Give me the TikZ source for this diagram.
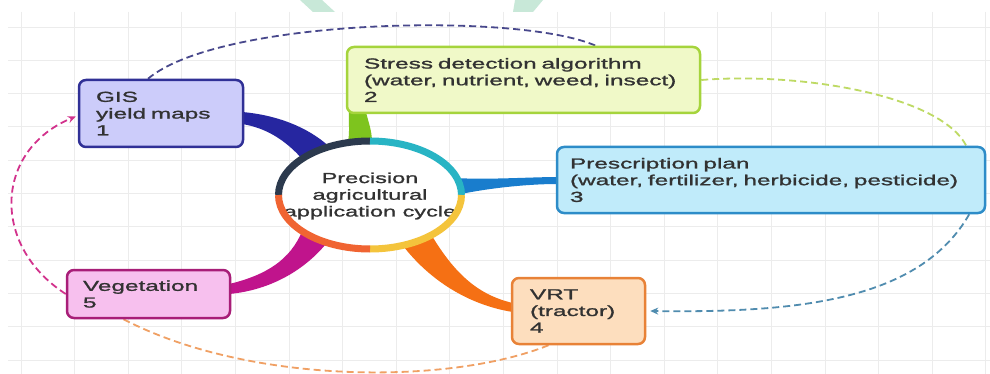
\documentclass[tikz,border=0pt]{standalone}
\usepackage{fontspec}
\newfontfamily\lblfont[FakeStretch=1.68,FakeBold=1.3]{Liberation Sans}
\newfontfamily\cycfont[FakeStretch=1.62,FakeBold=1.3]{Liberation Sans}
\usetikzlibrary{calc,arrows.meta,backgrounds}
\definecolor{txt}{RGB}{50,50,50}
\definecolor{gisfill}{RGB}{204,204,250}\definecolor{gisdraw}{RGB}{48,48,150}
\definecolor{strfill}{RGB}{240,249,200}\definecolor{strdraw}{RGB}{165,212,60}
\definecolor{prefill}{RGB}{192,235,250}\definecolor{predraw}{RGB}{45,140,200}
\definecolor{vrtfill}{RGB}{253,222,190}\definecolor{vrtdraw}{RGB}{232,130,55}
\definecolor{vegfill}{RGB}{247,192,238}\definecolor{vegdraw}{RGB}{168,30,120}
\definecolor{spGis}{RGB}{38,38,160}\definecolor{spStr}{RGB}{126,196,30}
\definecolor{spPre}{RGB}{25,125,205}\definecolor{spVrt}{RGB}{245,112,20}
\definecolor{spVeg}{RGB}{192,20,140}
\definecolor{rNavy}{RGB}{44,58,78}\definecolor{rTeal}{RGB}{40,180,196}
\definecolor{rYel}{RGB}{244,196,60}\definecolor{rOra}{RGB}{240,100,50}
\definecolor{dGis}{RGB}{72,72,140}\definecolor{dStr}{RGB}{190,218,100}
\definecolor{dPre}{RGB}{80,140,175}\definecolor{dVrt}{RGB}{240,160,100}
\definecolor{dVeg}{RGB}{210,50,140}
\definecolor{gridc}{RGB}{236,236,236}\definecolor{wm}{RGB}{200,232,216}
\tikzset{
  lbl/.style={font=\lblfont\fontsize{14.5}{16.7}\selectfont, text=txt},
  box/.style={lbl, draw, rounded corners=7pt, line width=2.5pt, align=left,
    inner xsep=0pt, inner ysep=0pt},
  cycdash/.style={dash pattern=on 7pt off 4pt, line width=1.8pt},
  ringseg/.style={line width=7pt},
  gridline/.style={draw=gridc, line width=0.8pt},
}
\begin{document}
\begin{tikzpicture}[x=1pt,y=-1pt]
\useasboundingbox (0,0) rectangle (990,374);

% boxes
\node[box, draw=gisdraw, fill=gisfill, minimum width=164pt, minimum height=67pt, text width=130pt] (gis) at (161,113.5) {GIS\\yield maps\\1};
\node[box, draw=strdraw, fill=strfill, minimum width=353pt, minimum height=66pt, text width=319pt] (stress) at (523.5,80) {Stress detection algorithm\\\mbox{(water, nutrient, weed, insect)}\\2};
\node[box, draw=predraw, fill=prefill, minimum width=428pt, minimum height=66pt, text width=402pt] (presc) at (771,180) {Prescription plan\\\mbox{(water, fertilizer, herbicide, pesticide)}\\3};
\node[box, draw=vrtdraw, fill=vrtfill, minimum width=133pt, minimum height=66pt, text width=97pt] (vrt) at (578.5,311) {VRT\\(tractor)\\4};
\node[box, draw=vegdraw, fill=vegfill, minimum width=163pt, minimum height=48pt, text width=131pt] (veg) at (148.5,294) {Vegetation\\5};

% centre
\fill[white] (370,195) ellipse[x radius=91.5, y radius=54];
\node[font=\cycfont\fontsize{14.5}{16.7}\selectfont, text=txt, align=center, inner sep=0pt] (cyc) at (370,196) {Precision\\agricultural\\application cycle};
\draw[ringseg, rNavy] ($(cyc.center)+(0,-55)$) arc[start angle=-90, end angle=-180, x radius=91.5, y radius=54];
\draw[ringseg, rTeal] ($(cyc.center)+(91.5,-1)$) arc[start angle=0, end angle=-90, x radius=91.5, y radius=54];
\draw[ringseg, rYel] ($(cyc.center)+(91.5,-1)$) arc[start angle=0, end angle=90, x radius=91.5, y radius=54];
\draw[ringseg, rOra] ($(cyc.center)+(0,53)$) arc[start angle=90, end angle=180, x radius=91.5, y radius=54];

\begin{scope}[on background layer]
  \fill[white] (0,0) rectangle (990,374);
  \foreach \i in {0,...,18} \draw[gridline] ({21+53.6*\i},12) -- ({21+53.6*\i},374);
  \foreach \j in {0,...,10} \draw[gridline] (8,{27+33.3*\j}) -- (990,{27+33.3*\j});
  \fill[wm] (300,0) -- (322,0) -- (335,12) -- (313,12) -- cycle;
  \fill[wm] (515,0) -- (543,0) -- (533,12) -- (513,12) -- cycle;

  % dashed cycle connectors
  \draw[cycdash, dGis] ($(gis.north)+(-13,0)$) .. controls (220,18) and (520,12) .. ($(stress.north west)+(250,0)$);
  \draw[cycdash, dStr] (stress.east) .. controls (800,72) and (940,95) .. ($(presc.north east)+(-20,0)$);
  \draw[cycdash, dPre, -{Stealth[length=8pt,width=7pt]}] ($(presc.south east)+(-17,0)$) .. controls (920,300) and (800,313) .. ($(vrt.east)+(4,0)$);
  \draw[cycdash, dVrt] ($(vrt.south)+(-30,0)$) .. controls (450,385) and (250,385) .. ($(veg.south)+(-25,0)$);
  \draw[cycdash, dVeg, -{Stealth[length=8pt,width=7pt]}] (veg.west) .. controls (-10,245) and (-5,150) .. ($(gis.west)+(-2,3)$);

  % spokes
  \fill[spGis] ($(gis.east)+(-2,-1.5)$) .. controls +(34,3) and +(-22,-20) .. ($(cyc.center)+(-40.6,-49.3)$)
     -- ($(cyc.center)+(-67.8,-37)$) .. controls +(-17,-19) and +(24,4) .. ($(gis.east)+(-2,10.5)$) -- cycle;
  \fill[spStr] ($(stress.south west)+(3,-3)$) .. controls +(0,15) and +(2,-10) .. ($(cyc.center)+(-22.2,-53.4)$)
     -- ($(cyc.center)+(1.9,-55)$) .. controls +(0,-10) and +(3,12) .. ($(stress.south west)+(20,-3)$) -- cycle;
  \fill[spPre] ($(cyc.center)+(86,-18)$) .. controls +(30,2) and +(-25,0) .. ($(presc.west)+(2,-3)$)
     -- ($(presc.west)+(2,4)$) .. controls +(-30,0) and +(29,-6) .. ($(cyc.center)+(91,-2)$) -- cycle;
  \fill[spVrt] ($(cyc.center)+(32.7,49.4)$) .. controls +(27,35) and +(-44,-7) .. ($(vrt.west)+(2,1)$)
     -- ($(vrt.west)+(2,-8)$) .. controls +(-34,-8) and +(24,40) .. ($(cyc.center)+(61.3,38.8)$) -- cycle;
  \fill[spVeg] ($(veg.east)+(-2,-10)$) .. controls +(37,-9) and +(-12,29) .. ($(cyc.center)+(-67.8,35)$)
     -- ($(cyc.center)+(-42.9,46.6)$) .. controls +(-22,27) and +(42,-4) .. ($(veg.east)+(-2,0)$) -- cycle;
\end{scope}
\end{tikzpicture}
\end{document}
